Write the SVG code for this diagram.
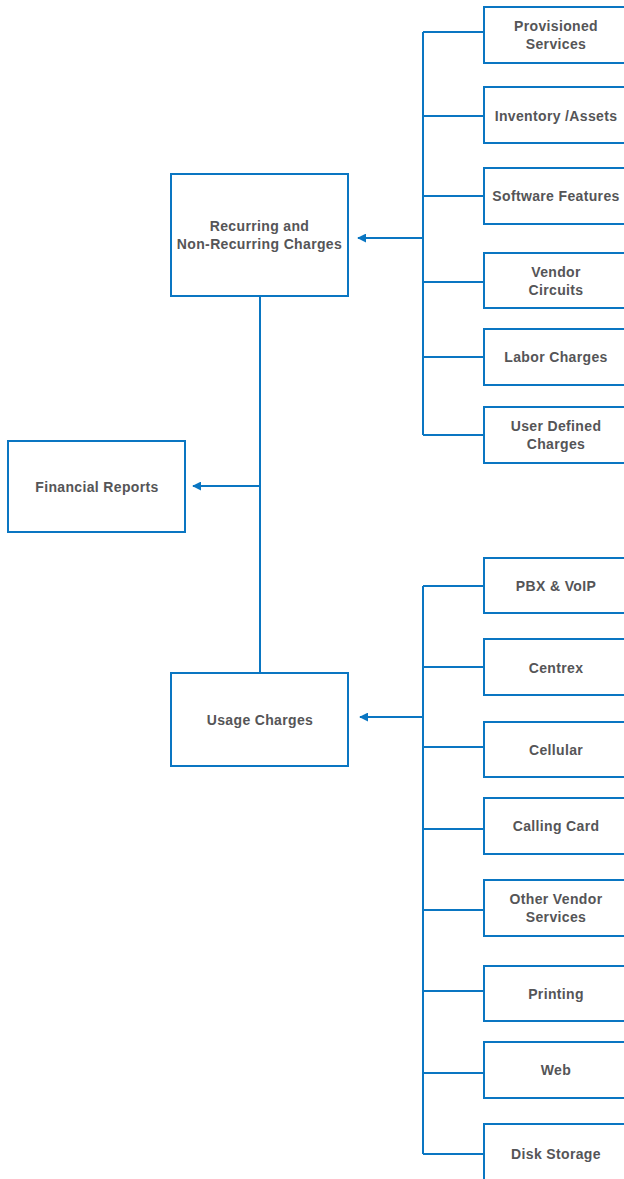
<svg xmlns="http://www.w3.org/2000/svg" width="624" height="1179" viewBox="0 0 624 1179">
<style>
.box{fill:#fff;stroke:#0a76c2;stroke-width:2}
.ln{fill:none;stroke:#0a76c2;stroke-width:2}
.t{font-family:"Liberation Sans",Arial,sans-serif;font-weight:bold;font-size:14px;fill:#555557;text-anchor:middle;letter-spacing:0.35px}
</style>
<defs>
<marker id="ah" viewBox="0 0 10 10" refX="9" refY="5" markerWidth="4.5" markerHeight="4.5" markerUnits="strokeWidth" orient="auto">
<path d="M0,0 L10,5 L0,10 Z" fill="#0a76c2"/>
</marker>
</defs>
<rect width="624" height="1179" fill="#fff"/>
<g id="connectors">
<path class="ln" d="M423,32 V435"/>
<path class="ln" d="M423,32 H484 M423,116 H484 M423,196 H484 M423,282 H484 M423,357 H484 M423,435 H484"/>
<path class="ln" d="M423,238 H358" marker-end="url(#ah)"/>
<path class="ln" d="M423,586 V1154"/>
<path class="ln" d="M423,586 H484 M423,667 H484 M423,747 H484 M423,829 H484 M423,910 H484 M423,991 H484 M423,1073 H484 M423,1154 H484"/>
<path class="ln" d="M423,717 H360" marker-end="url(#ah)"/>
<path class="ln" d="M260,296 V673"/>
<path class="ln" d="M260,486 H193" marker-end="url(#ah)"/>
</g>
<g id="recurring"><rect class="box" x="171" y="174" width="177" height="122"/><text class="t" x="259.5" y="231">Recurring and</text><text class="t" x="259.5" y="249">Non-Recurring Charges</text></g>
<g id="financial"><rect class="box" x="8" y="441" width="177" height="91"/><text class="t" x="97" y="492">Financial Reports</text></g>
<g id="usage"><rect class="box" x="171" y="673" width="177" height="93"/><text class="t" x="260" y="725">Usage Charges</text></g>
<g id="provisioned"><rect class="box" x="484" y="7" width="160" height="56"/><text class="t" x="556" y="31">Provisioned</text><text class="t" x="556" y="49">Services</text></g>
<g id="inventory"><rect class="box" x="484" y="87" width="160" height="56"/><text class="t" x="556" y="121">Inventory /Assets</text></g>
<g id="software"><rect class="box" x="484" y="168" width="160" height="56"/><text class="t" x="556" y="201">Software Features</text></g>
<g id="vendor"><rect class="box" x="484" y="253" width="160" height="55"/><text class="t" x="556" y="277">Vendor</text><text class="t" x="556" y="295">Circuits</text></g>
<g id="labor"><rect class="box" x="484" y="329" width="160" height="56"/><text class="t" x="556" y="362">Labor Charges</text></g>
<g id="userdefined"><rect class="box" x="484" y="407" width="160" height="56"/><text class="t" x="556" y="431">User Defined</text><text class="t" x="556" y="449">Charges</text></g>
<g id="pbx"><rect class="box" x="484" y="558" width="160" height="55"/><text class="t" x="556" y="591">PBX &amp; VoIP</text></g>
<g id="centrex"><rect class="box" x="484" y="639" width="160" height="56"/><text class="t" x="556" y="673">Centrex</text></g>
<g id="cellular"><rect class="box" x="484" y="722" width="160" height="55"/><text class="t" x="556" y="755">Cellular</text></g>
<g id="callingcard"><rect class="box" x="484" y="798" width="160" height="56"/><text class="t" x="556" y="831">Calling Card</text></g>
<g id="othervendor"><rect class="box" x="484" y="880" width="160" height="56"/><text class="t" x="556" y="904">Other Vendor</text><text class="t" x="556" y="922">Services</text></g>
<g id="printing"><rect class="box" x="484" y="966" width="160" height="55"/><text class="t" x="556" y="999">Printing</text></g>
<g id="web"><rect class="box" x="484" y="1042" width="160" height="56"/><text class="t" x="556" y="1075">Web</text></g>
<g id="disk"><rect class="box" x="484" y="1124" width="160" height="70"/><text class="t" x="556" y="1159">Disk Storage</text></g>
</svg>
